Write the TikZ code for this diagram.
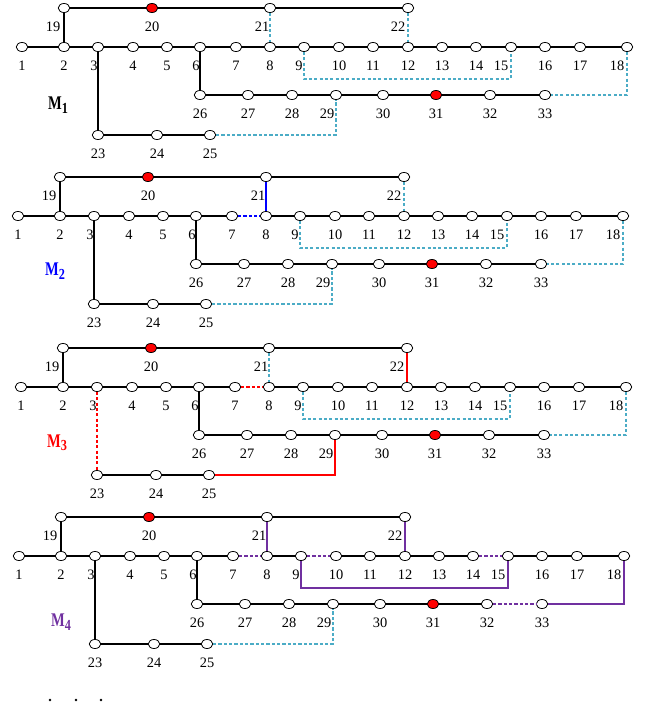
\documentclass[tikz,border=0pt]{standalone}
\usepackage{fontspec}
\setmainfont{Liberation Serif}
\usetikzlibrary{shapes.geometric}

\definecolor{tiecyan}{RGB}{75,172,198}
\definecolor{mpurple}{RGB}{112,48,160}

\tikzset{
    bus/.style={ellipse,draw,fill=white,line width=0.6pt,inner sep=0pt,
                minimum width=8.6pt,minimum height=6.8pt},
    lab/.style={font=\fontsize{10.8}{12}\selectfont,yshift=-14.25pt,inner sep=0pt},
    mlab/.style={font=\fontsize{14.5}{15}\selectfont\bfseries,inner sep=0pt},
    feeder/.style={line width=1.4pt},
    tie/.style={draw=tiecyan,line width=1.2pt,dash pattern=on 2.4pt off 1.6pt},
    opensw/.style={draw=#1,line width=1.2pt,dash pattern=on 2.4pt off 1.6pt},
    closesw/.style={draw=#1,line width=1.2pt},
    e78/.style={feeder}, e910/.style={feeder}, e1415/.style={feeder},
    e3233/.style={feeder}, e323/.style={feeder},
    t821/.style={tie}, t1222/.style={tie}, t915/.style={tie},
    t1833/.style={tie}, t2529/.style={tie},
}

\newcommand\mname[1]{\scalebox{0.75}[1]{M}\raisebox{-2.6pt}{\scalebox{0.8}[1]{\fontsize{11.5}{12}\selectfont #1}}}

\newcommand\drawnet{%
    \foreach \n/\x/\y/\dx/\f in {1/0/0/0/white, 2/42/0/0/white, 3/76/0/-4/white,
        4/111/0/0/white, 5/145/0/0/white, 6/178/0/-4/white, 7/214/0/0/white,
        8/248/0/0/white, 9/282/0/-5/white, 10/317/0/0/white, 11/351/0/0/white,
        12/386/0/0/white, 13/420/0/0/white, 14/454/0/0/white, 15/489/0/-10/white,
        16/523/0/0/white, 17/558/0/0/white, 18/605/0/-10/white,
        19/42/-39/-11/white, 20/130/-39/0/red, 21/248/-39/-8/white, 22/386/-39/-10/white,
        23/76/88/0/white, 24/135/88/0/white, 25/188/88/0/white,
        26/178/48/0/white, 27/226/48/0/white, 28/270/48/0/white, 29/314/48/-9/white,
        30/361/48/0/white, 31/414/48/0/red, 32/468/48/0/white, 33/523/48/0/white}
        \node[bus,fill=\f,label={[lab,xshift=\dx*0.75pt]center:\n}] (\n) at (\x,\y) {};
    \foreach \a/\b/\s in {1/2/feeder, 2/3/feeder, 3/4/feeder, 4/5/feeder, 5/6/feeder,
        6/7/feeder, 7/8/e78, 8/9/feeder, 9/10/e910, 10/11/feeder, 11/12/feeder,
        12/13/feeder, 13/14/feeder, 14/15/e1415, 15/16/feeder, 16/17/feeder,
        17/18/feeder, 2/19/feeder, 19/20/feeder, 20/21/feeder, 21/22/feeder,
        3/23/e323, 23/24/feeder, 24/25/feeder, 6/26/feeder, 26/27/feeder,
        27/28/feeder, 28/29/feeder, 29/30/feeder, 30/31/feeder, 31/32/feeder,
        32/33/e3233}
        \draw[\s] (\a) -- (\b);
    % tie lines
    \draw[t821] (21) -- (8);
    \draw[t1222] (22) -- (12);
    \draw[t915] (9) -- ++(0,32) -| (15);
    \draw[t1833] (18) |- (33);
    \draw[t2529] (25) -| (29);
}

\begin{document}
\begin{tikzpicture}[x=0.75pt,y=-0.75pt]
\useasboundingbox (0,0) rectangle (648,713);

\begin{scope}[shift={(22,47)},name prefix=a-]
    \drawnet
    \node[mlab] (m1) at (36,58) {\mname{1}};
\end{scope}

\begin{scope}[shift={(18,216)},name prefix=b-,
              e78/.style={opensw=blue}, t821/.style={closesw=blue}]
    \drawnet
    \node[mlab,blue] (m2) at (37,55) {\mname{2}};
\end{scope}

\begin{scope}[shift={(21,387)},name prefix=c-,
              e78/.style={opensw=red}, e323/.style={opensw=red},
              t1222/.style={closesw=red}, t2529/.style={closesw=red}]
    \drawnet
    \node[mlab,red] (m3) at (36,56) {\mname{3}};
\end{scope}

\begin{scope}[shift={(19,556)},name prefix=d-,
              e78/.style={opensw=mpurple}, e910/.style={opensw=mpurple},
              e1415/.style={opensw=mpurple}, e3233/.style={opensw=mpurple},
              t821/.style={closesw=mpurple}, t1222/.style={closesw=mpurple},
              t915/.style={closesw=mpurple}, t1833/.style={closesw=mpurple}]
    \drawnet
    \node[mlab,mpurple] (m4) at (42,66) {\mname{4}};
\end{scope}

\foreach \x in {50,76,101}
    \fill (\x,700) circle (1.1pt);
\end{tikzpicture}
\end{document}
